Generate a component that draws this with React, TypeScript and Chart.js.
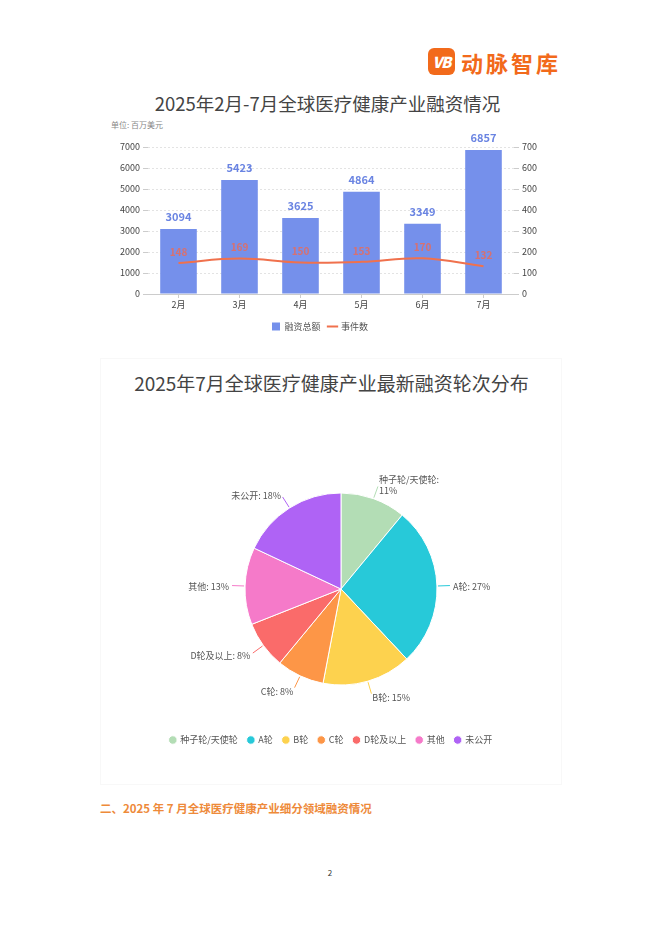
import React, { useEffect, useRef } from 'react';
import { Chart, registerables } from 'chart.js';

Chart.register(...registerables);

const FONT = '"Noto Sans CJK SC", "Noto Sans", sans-serif';

// ---- Chart 1 data ----
const months = ['2月', '3月', '4月', '5月', '6月', '7月'];
const fundingAmounts = [3094, 5423, 3625, 4864, 3349, 6857];
const eventCounts = [148, 169, 150, 153, 170, 132];
const amountAxisMax = 7000;
const amountAxisStep = 1000;
const countAxisMax = 700;
const countAxisStep = 100;
const seriesNames = ['融资总额', '事件数'];

// ---- Chart 2 data ----
const rounds = ['种子轮/天使轮', 'A轮', 'B轮', 'C轮', 'D轮及以上', '其他', '未公开'];
const roundShares = [11, 27, 15, 8, 8, 13, 18];
const roundColors = ['#B3DDB5', '#27C9D9', '#FDD24E', '#FD9647', '#FA6B6A', '#F57AC9', '#AF63F5'];

const barLabelPlugin = {
  id: 'barLabels',
  afterDatasetsDraw(chart: any) {
    const ctx = chart.ctx;
    ctx.save();
    ctx.textAlign = 'center';
    ctx.textBaseline = 'middle';
    const barMeta = chart.getDatasetMeta(0);
    ctx.font = `bold 11px ${FONT}`;
    ctx.fillStyle = '#6A84E2';
    barMeta.data.forEach((el: any, i: number) => {
      ctx.fillText(String(fundingAmounts[i]), el.x, el.y - 12);
    });
    const lineMeta = chart.getDatasetMeta(1);
    ctx.font = `bold 10px ${FONT}`;
    ctx.fillStyle = 'rgba(242,104,78,0.78)';
    lineMeta.data.forEach((el: any, i: number) => {
      ctx.fillText(String(eventCounts[i]), el.x, el.y - 11);
    });
    ctx.restore();
  },
};

const pieLabelPlugin = {
  id: 'pieLabels',
  afterDatasetsDraw(chart: any) {
    const ctx = chart.ctx;
    const meta = chart.getDatasetMeta(0);
    ctx.save();
    ctx.font = `9px ${FONT}`;
    ctx.textBaseline = 'middle';
    meta.data.forEach((arc: any, i: number) => {
      const mid = (arc.startAngle + arc.endAngle) / 2;
      const r = arc.outerRadius;
      const cx = arc.x;
      const cy = arc.y;
      const c = Math.cos(mid);
      const s = Math.sin(mid);
      ctx.strokeStyle = roundColors[i];
      ctx.lineWidth = 1;
      ctx.beginPath();
      ctx.moveTo(cx + c * (r + 1), cy + s * (r + 1));
      ctx.lineTo(cx + c * (r + 13), cy + s * (r + 13));
      ctx.stroke();
      const tx = cx + c * (r + 16);
      const ty = cy + s * (r + 16);
      const full = `${rounds[i]}: ${roundShares[i]}%`;
      const lines = ctx.measureText(full).width > 70 ? [`${rounds[i]}:`, `${roundShares[i]}%`] : [full];
      ctx.textAlign = c >= 0 ? 'left' : 'right';
      ctx.fillStyle = '#555';
      lines.forEach((t, k) => {
        ctx.fillText(t, tx, ty + 1 + (k - (lines.length - 1) / 2) * 11);
      });
    });
    ctx.restore();
  },
};

function ComboChart() {
  const ref = useRef<HTMLCanvasElement | null>(null);
  useEffect(() => {
    if (!ref.current) return;
    const tickFont = { family: FONT, size: 9 };
    const chart = new Chart(ref.current, {
      type: 'bar',
      data: {
        labels: months,
        datasets: [
          {
            type: 'bar',
            label: seriesNames[0],
            data: fundingAmounts,
            backgroundColor: '#7590EB',
            yAxisID: 'y',
            barPercentage: 0.6,
            categoryPercentage: 1,
            order: 1,
          } as any,
          {
            type: 'line',
            label: seriesNames[1],
            data: eventCounts,
            borderColor: '#F0714D',
            backgroundColor: '#F0714D',
            borderWidth: 2,
            pointRadius: 0,
            tension: 0.4,
            yAxisID: 'y1',
            order: 0,
          } as any,
        ],
      },
      options: {
        animation: false,
        responsive: false,
        maintainAspectRatio: false,
        layout: { padding: { top: 27, left: 0, right: 0, bottom: 1 } },
        plugins: {
          tooltip: { enabled: false },
          legend: {
            position: 'bottom',
            labels: {
              usePointStyle: true,
              boxWidth: 8,
              boxHeight: 8,
              padding: 8,
              color: '#555',
              font: { family: FONT, size: 9 },
              sort: (a: any, b: any) => a.datasetIndex - b.datasetIndex,
              generateLabels: (ch: any) => {
                const items = (Chart.defaults.plugins.legend.labels as any).generateLabels(ch);
                return items.map((it: any) => ({
                  ...it,
                  pointStyle: it.datasetIndex === 0 ? 'rect' : 'line',
                  lineWidth: it.datasetIndex === 0 ? 0 : 2,
                }));
              },
            },
          },
        },
        scales: {
          x: {
            grid: { display: true, drawOnChartArea: false, offset: false, tickLength: 4, color: '#ccc' },
            border: { display: true, color: '#ccc' },
            ticks: { font: tickFont, color: '#444', padding: 1 },
            afterFit: (s: any) => { s.height = 20; },
          },
          y: {
            position: 'left',
            min: 0,
            max: amountAxisMax,
            ticks: { stepSize: amountAxisStep, font: tickFont, color: '#444', padding: 3, callback: (v: any) => String(v) },
            grid: { color: '#e3e3e3', tickColor: '#ccc', tickLength: 5, tickBorderDash: [] },
            border: { display: false, dash: [2, 2] },
            afterFit: (s: any) => { s.width = 48; },
          },
          y1: {
            position: 'right',
            min: 0,
            max: countAxisMax,
            ticks: { stepSize: countAxisStep, font: tickFont, color: '#444', padding: 3, callback: (v: any) => String(v) },
            grid: { drawOnChartArea: false, color: '#ccc', tickLength: 5 },
            border: { display: false },
            afterFit: (s: any) => { s.width = 26; },
          },
        },
      } as any,
      plugins: [barLabelPlugin],
    });
    return () => chart.destroy();
  }, []);
  return <canvas ref={ref} width={440} height={222} style={{ position: 'absolute', left: 100, top: 120, width: 440, height: 222 }} />;
}

function PieChart() {
  const ref = useRef<HTMLCanvasElement | null>(null);
  useEffect(() => {
    if (!ref.current) return;
    const chart = new Chart(ref.current, {
      type: 'pie',
      data: {
        labels: rounds,
        datasets: [
          {
            data: roundShares,
            backgroundColor: roundColors,
            borderColor: '#ffffff',
            borderWidth: 1,
            radius: 96,
          } as any,
        ],
      },
      options: {
        animation: false,
        responsive: false,
        maintainAspectRatio: false,
        layout: { padding: { top: 12.5, left: 22, right: 0, bottom: 5.5 } },
        plugins: {
          tooltip: { enabled: false },
          legend: {
            position: 'bottom',
            labels: {
              usePointStyle: true,
              pointStyle: 'circle',
              boxWidth: 6,
              boxHeight: 6,
              padding: 10,
              color: '#555',
              font: { family: FONT, size: 9 },
            },
          },
        },
      } as any,
      plugins: [
        pieLabelPlugin,
        {
          id: 'legendShift',
          afterLayout(ch: any) {
            if (ch.legend) {
              ch.legend.left -= 10;
              ch.legend.right -= 10;
            }
          },
        },
      ],
    });
    return () => chart.destroy();
  }, []);
  return <canvas ref={ref} width={440} height={320} style={{ position: 'absolute', left: 110, top: 440, width: 440, height: 320 }} />;
}

export default function App() {
  const text = (style: React.CSSProperties, content: string) => (
    <div style={{ position: 'absolute', whiteSpace: 'nowrap', fontFamily: FONT, ...style }}>{content}</div>
  );
  return (
    <div style={{ position: 'absolute', left: 0, top: 0, width: 662, height: 936, background: '#fff', overflow: 'hidden' }}>
      {/* logo */}
      <div style={{ position: 'absolute', left: 428, top: 48, width: 27, height: 27, borderRadius: 6, background: '#F26A1B', color: '#fff', fontFamily: FONT, fontWeight: 900, fontSize: 15, lineHeight: '27px', textAlign: 'center', fontStyle: 'italic', letterSpacing: -1 }}>VB</div>
      {text({ left: 461, top: 50, fontSize: 22, lineHeight: '24px', fontWeight: 700, color: '#F26A1B', letterSpacing: 3 }, '动脉智库')}

      {text({ left: 27.5, width: 600, top: 93, fontSize: 18.5, lineHeight: '20px', color: '#444', textAlign: 'center' }, '2025年2月-7月全球医疗健康产业融资情况')}
      {text({ left: 111, top: 119.5, fontSize: 8, lineHeight: '9px', color: '#888' }, '单位: 百万美元')}
      <ComboChart />

      <div style={{ position: 'absolute', left: 100, top: 358, width: 462, height: 427, border: '1px solid #f8f8f8', boxSizing: 'border-box' }} />
      {text({ left: 31.5, width: 600, top: 373, fontSize: 19, lineHeight: '20px', color: '#444', textAlign: 'center' }, '2025年7月全球医疗健康产业最新融资轮次分布')}
      <PieChart />

      {text({ left: 100, top: 801, fontSize: 11.5, lineHeight: '14px', fontWeight: 700, color: '#EE8A3A' }, '二、2025 年 7 月全球医疗健康产业细分领域融资情况')}
      {text({ left: 300, width: 60, top: 868, fontSize: 8, lineHeight: '10px', color: '#333', textAlign: 'center' }, '2')}
    </div>
  );
}
